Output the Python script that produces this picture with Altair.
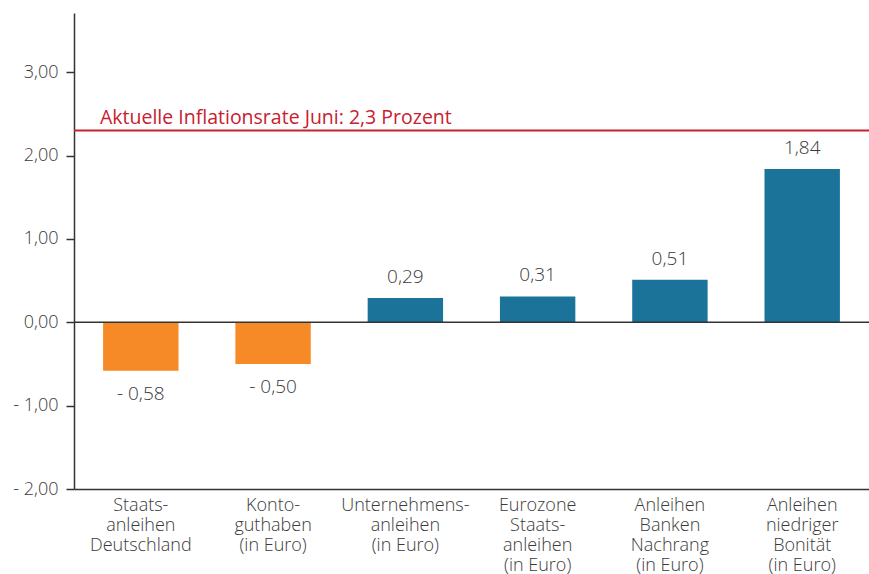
import altair as alt
import pandas as pd

categories = [
    "Staats-\nanleihen\nDeutschland",
    "Konto-\nguthaben\n(in Euro)",
    "Unternehmens-\nanleihen\n(in Euro)",
    "Eurozone\nStaats-\nanleihen\n(in Euro)",
    "Anleihen\nBanken\nNachrang\n(in Euro)",
    "Anleihen\nniedriger\nBonität\n(in Euro)",
]
values = [-0.58, -0.50, 0.29, 0.31, 0.51, 1.84]
value_labels = ["- 0,58", "- 0,50", "0,29", "0,31", "0,51", "1,84"]
inflation = 2.3
inflation_label = "Aktuelle Inflationsrate Juni: 2,3 Prozent"

df = pd.DataFrame({
    "cat": categories,
    "value": values,
    "label": value_labels,
    "sign": ["neg" if v < 0 else "pos" for v in values],
})

FONT = "Open Sans"
W = 300
TXT = "#3a3a3a"
RED = "#c8202f"

x = alt.X("cat:N", sort=categories, title=None,
          scale=alt.Scale(paddingInner=0.43, paddingOuter=0.22),
          axis=alt.Axis(labelAngle=0, ticks=False, domainColor="#333333",
                        domainWidth=1.5, labelPadding=7,
                        labelExpr="split(datum.label, '\\n')",
                        labelLineHeight=20, labelFontSize=18, labelFontWeight=W,
                        labelColor=TXT, labelFont=FONT, labelBaseline="top"))
y = alt.Y("value:Q", title=None,
          scale=alt.Scale(domain=[-2, 3.71], nice=False, zero=False),
          axis=alt.Axis(values=[-2, -1, 0, 1, 2, 3], grid=False,
                        tickSize=8, tickColor="#333333", tickWidth=1.5,
                        domainColor="#333333", domainWidth=1.5,
                        labelPadding=8, labelFontSize=18, labelColor=TXT,
                        labelFont=FONT, labelFontWeight=W,
                        labelExpr="(datum.value < 0 ? '- ' : '') + replace(format(abs(datum.value), '.2f'), '.', ',')"))

base = alt.Chart(df)

bars = base.mark_bar().encode(
    x=x, y=y,
    color=alt.Color("sign:N", scale=alt.Scale(domain=["neg", "pos"], range=["#f58a26", "#1b7399"]), legend=None),
)

pos_text = base.transform_filter("datum.value >= 0").mark_text(
    baseline="alphabetic", dy=-15, fontSize=19, font=FONT, fontWeight=W, color=TXT
).encode(x=alt.X("cat:N", sort=categories), y="value:Q", text="label:N")

neg_text = base.transform_filter("datum.value < 0").mark_text(
    baseline="alphabetic", dy=29, fontSize=19, font=FONT, fontWeight=W, color=TXT
).encode(x=alt.X("cat:N", sort=categories), y="value:Q", text="label:N")

zero = alt.Chart(pd.DataFrame({"y": [0]})).mark_rule(color="#333333", strokeWidth=1.5).encode(y="y:Q")

infl_df = pd.DataFrame({"y": [inflation], "t": [inflation_label]})
infl_rule = alt.Chart(infl_df).mark_rule(color=RED, strokeWidth=2).encode(y="y:Q")
infl_text = alt.Chart(infl_df).mark_text(
    align="left", baseline="alphabetic", dx=0, dy=-7, fontSize=19.5, font=FONT, color=RED
).encode(x=alt.value(26), y="y:Q", text="t:N")

chart = alt.layer(bars, zero, pos_text, neg_text, infl_rule, infl_text).properties(
    width=795, height=476,
    background="white",
    autosize=alt.AutoSizeParams(type="none"),
    padding={"left": 74, "top": 13, "right": 0, "bottom": 85},
).configure_view(strokeWidth=0, stroke=None)

chart.save("out.html", embed_options={"renderer": "svg", "actions": False})
